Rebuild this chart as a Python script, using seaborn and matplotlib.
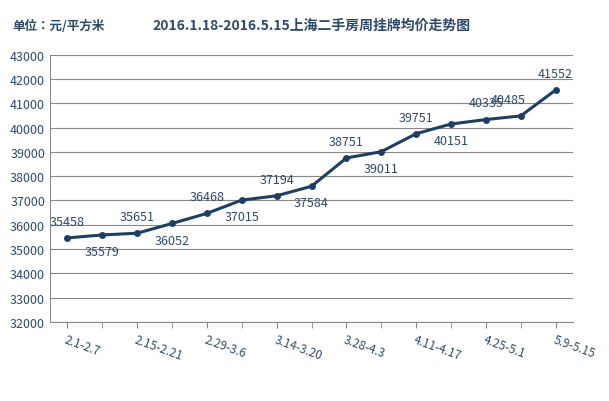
import matplotlib
matplotlib.use('Agg')
import matplotlib.pyplot as plt
import seaborn as sns
import pandas as pd

plt.rcParams['font.family'] = ['Noto Sans CJK SC', 'Noto Sans CJK JP', 'DejaVu Sans']

semanas = list(range(15))
precios = [35458, 35579, 35651, 36052, 36468, 37015, 37194, 37584,
           38751, 39011, 39751, 40151, 40335, 40485, 41552]
etiquetas = ['2.1-2.7', '2.15-2.21', '2.29-3.6', '3.14-3.20',
             '3.28-4.3', '4.11-4.17', '4.25-5.1', '5.9-5.15']
abajo = [1, 3, 5, 7, 9, 11]

color = '#1F3F62'
texto = '#2E4A6B'

df = pd.DataFrame({'semana': semanas, 'precio': precios})

fig = plt.figure(figsize=(6.09, 4.02), dpi=100)
ax = fig.add_axes([0.082, 0.197, 0.859, 0.664])

sns.lineplot(data=df, x='semana', y='precio', ax=ax, color=color,
             linewidth=2.2, marker='o', markersize=5, markeredgewidth=0)

for i, p in zip(semanas, precios):
    dy = -12 if i in abajo else 12
    dx = -9 if i == 13 else 0
    ax.annotate(str(p), (i, p), xytext=(dx, dy), textcoords='offset points',
                ha='center', va='center', fontsize=9, color=texto)

ax.set_xlim(-0.5, 14.5)
ax.set_ylim(32000, 43000)
ax.set_yticks(range(32000, 43001, 1000))
ax.set_xticks(semanas[::2])
ax.set_xticklabels(etiquetas, rotation=-20, ha='left', rotation_mode='anchor',
                   fontsize=8.5, color=texto)
ax.set_xticks(semanas, minor=True)
ax.tick_params(axis='y', labelsize=9, labelcolor=texto, length=0)
ax.tick_params(axis='x', which='both', length=4, color='#888888')
ax.grid(axis='y', color='#888888', linewidth=0.8)
for s in ['top', 'right']:
    ax.spines[s].set_visible(False)
ax.spines['left'].set_color('#888888')
ax.spines['bottom'].set_color('#888888')
ax.set_xlabel('')
ax.set_ylabel('')

fig.text(0.02, 0.925, '单位：元/平方米', fontsize=9, color=texto, weight='bold')
fig.text(0.25, 0.925, '2016.1.18-2016.5.15上海二手房周挂牌均价走势图',
         fontsize=10, color=texto, weight='bold')

plt.savefig('out.png')
plt.close()
